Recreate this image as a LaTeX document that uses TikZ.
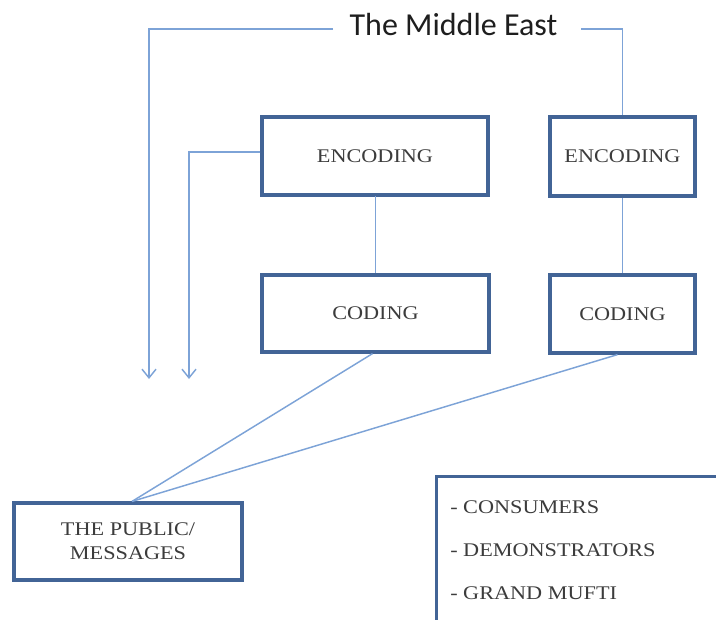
\documentclass[tikz,border=0pt]{standalone}
\usepackage{fontspec}
\usetikzlibrary{arrows.meta,calc}
\newfontfamily\boxfont[FakeStretch=1.15]{Liberation Serif}
\newfontfamily\titlefont{Carlito}
\definecolor{boxblue}{RGB}{66,100,150}
\definecolor{linkblue}{RGB}{125,163,215}
\definecolor{txtgray}{RGB}{60,60,60}
\tikzset{
  bx/.style={draw=boxblue, line width=2.4pt, rectangle, fill=white, inner sep=0pt,
             font=\boxfont\fontsize{14.5pt}{19pt}\selectfont, text=txtgray, align=center},
  lbl/.style={font=\boxfont\fontsize{14.5pt}{19pt}\selectfont, text=txtgray, inner sep=0pt, anchor=west},
  conn/.style={draw=linkblue, line width=1.1pt},
  arr/.style={conn, -{Straight Barb[length=6.5pt,width=10.5pt,line width=1.1pt]}}
}
\begin{document}
\begin{tikzpicture}[x=0.75pt,y=-0.75pt]
\useasboundingbox (0,0) rectangle (716,619);
\clip (0,0) rectangle (716,619);
% title
\node[font=\titlefont\fontsize{24pt}{28pt}\selectfont, text={rgb,255:red,30;green,30;blue,30}, anchor=base, inner sep=0pt] (title) at (453.5,35) {The Middle East};
% boxes
\node[bx, minimum width=226*0.75pt, minimum height=78*0.75pt] (enc1) at (375,156) {ENCODING};
\node[bx, minimum width=145*0.75pt, minimum height=79*0.75pt] (enc2) at (622.5,156.5) {ENCODING};
\node[bx, minimum width=227*0.75pt, minimum height=77*0.75pt] (cod1) at (375.5,313.5) {CODING};
\node[bx, minimum width=145*0.75pt, minimum height=78*0.75pt] (cod2) at (622.5,314) {CODING};
\node[bx, minimum width=228*0.75pt, minimum height=77*0.75pt] (pub) at (128,541.5) {THE PUBLIC/\\[-1pt]MESSAGES};
\node[bx, minimum width=330*0.75pt, minimum height=200*0.75pt, anchor=north west] (grp) at (435,475) {};
\node[lbl] (l1) at (450,507) {- CONSUMERS};
\node[lbl] (l2) at (450,550) {- DEMONSTRATORS};
\node[lbl] (l3) at (450,593) {- GRAND MUFTI};
% coordinates
\coordinate (tl) at (333,29);
\coordinate (tc) at (149,29);
\coordinate (a1) at (149,379);
\coordinate (tr) at (581,29);
\coordinate (a2) at (189,379);
% connectors
\draw[arr] (tl) -- (tc) -- (a1);
\draw[conn] (tr) -| (enc2.north);
\draw[arr] ($(enc1.west)+(0,-4)$) -| (a2);
\draw[conn] (enc1.south) -- (cod1.south |- enc1.south) -- (cod1.north);
\draw[conn] (enc2.south) -- (cod2.north);
\draw[conn] ($(cod1.south)+(-3,0)$) -- ($(pub.north)+(4,0)$);
\draw[conn] ($(cod2.south)+(-5,0)$) -- ($(pub.north)+(4,0)$);
\end{tikzpicture}
\end{document}
